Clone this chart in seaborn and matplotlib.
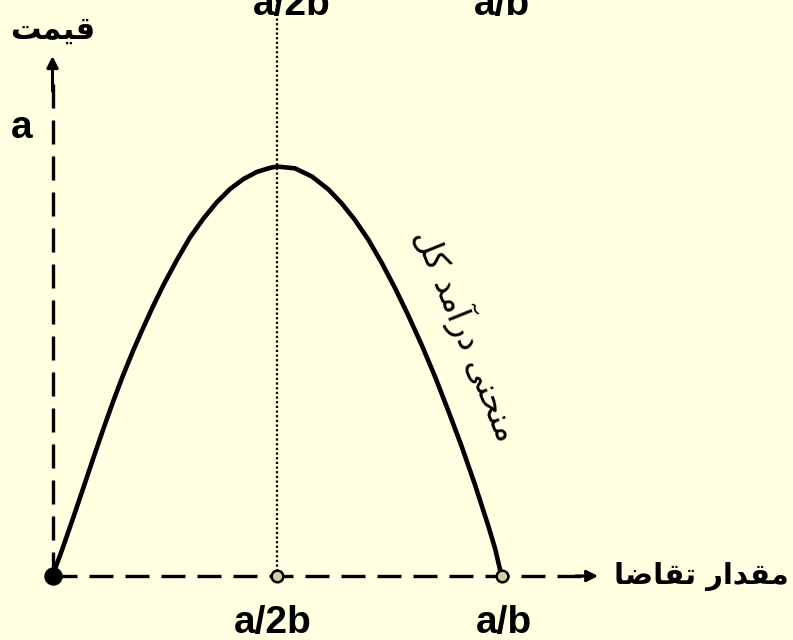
import matplotlib
matplotlib.use("Agg")
import matplotlib.pyplot as plt
import seaborn as sns
import pandas as pd

# ---- data ----
# quantity in units of a/2b  (0 = origin, 1 = a/2b, 2 = a/b)
q_values = [0.0, 0.048, 0.093, 0.137, 0.182, 0.226, 0.271, 0.315, 0.360, 0.404, 0.449,
            0.494, 0.553, 0.612, 0.672, 0.731, 0.791, 0.850, 0.910, 0.969, 1.0,
            1.080, 1.155, 1.229, 1.288, 1.347, 1.407, 1.466, 1.526, 1.585, 1.645,
            1.704, 1.763, 1.823, 1.882, 1.941, 1.972, 2.0]
# total revenue in units of a
tr_values = [0.0, 0.066, 0.131, 0.196, 0.263, 0.327, 0.390, 0.448, 0.503, 0.553, 0.602,
             0.648, 0.703, 0.754, 0.796, 0.832, 0.862, 0.884, 0.900, 0.909, 0.912,
             0.908, 0.890, 0.861, 0.830, 0.793, 0.749, 0.698, 0.641, 0.580, 0.514,
             0.444, 0.368, 0.288, 0.203, 0.112, 0.060, 0.0]
key_q = [0.0, 1.0, 2.0]
key_labels = ["", "a/2b", "a/b"]
price_tick = 1.0
price_label = "a"

# Persian labels (visual order, Arabic presentation forms)
label_price = "\uFE96\uFEE4\uFEF4\uFED7"                      # قیمت
label_qty = ("\uFE8E\uFEBF\uFE8E\uFED8\uFE97 "                 # تقاضا
             "\uFEAD\uFE8D\uFEAA\uFED8\uFEE3")                 # مقدار
label_curve = ("\uFEDE\uFB90 "                                 # کل
               "\uFEAA\uFEE3\uFE81\uFEAD\uFEA9 "               # درآمد
               "\uFEF0\uFEE8\uFEA4\uFEE8\uFEE3")               # منحنی

df = pd.DataFrame({"q": q_values, "tr": tr_values})

sns.set_theme(style="white")
plt.rcParams['font.family'] = ['Liberation Sans', 'DejaVu Sans']
plt.rcParams['text.color'] = 'black'

bg = "#FFFFE1"
fig = plt.figure(figsize=(7.93, 6.40), dpi=100, facecolor=bg)
ax = fig.add_axes([0, 0, 1, 1])
ax.set_facecolor(bg)
ax.set_xlim(-0.2339, 3.2984)
ax.set_ylim(-0.1425, 1.2829)
ax.axis("off")

# dotted vertical line at a/2b
ax.plot([key_q[1], key_q[1]], [0, 1.4], color="black", lw=1.6,
        linestyle=(0, (1, 1.1)), zorder=2)

# dashed axes
ax.plot([0, 2.36], [0, 0], color="black", lw=2.4, dashes=(7.2, 3.6), zorder=2)
ax.plot([0, 0], [0, 1.12], color="black", lw=2.4, dashes=(7.2, 3.6), zorder=2)
ax.annotate("", xy=(2.43, 0), xytext=(2.33, 0),
            arrowprops=dict(arrowstyle="-|>,head_length=0.55,head_width=0.28",
                            color="black", lw=2.2, shrinkA=0, shrinkB=0))
ax.annotate("", xy=(0, 1.158), xytext=(0, 1.08),
            arrowprops=dict(arrowstyle="-|>,head_length=0.55,head_width=0.28",
                            color="black", lw=2.2, shrinkA=0, shrinkB=0))

# total revenue curve
sns.lineplot(data=df, x="q", y="tr", ax=ax, color="black", lw=3.3,
             sort=False, estimator=None, zorder=3)
ax.lines[-1].set_solid_capstyle("round")
ax.lines[-1].set_solid_joinstyle("round")

# markers
ax.scatter([key_q[0]], [0], s=150, color="black", zorder=5)
ax.scatter(key_q[1:], [0, 0], s=70, facecolor="#CFCFA0", edgecolor="black",
           linewidth=1.8, zorder=5)

# labels
fs = 28
ax.text(key_q[1] - 0.018, -0.127, key_labels[1], ha="center", va="baseline",
        fontsize=fs, fontweight="bold", color="black")
ax.text(key_q[2] + 0.01, -0.127, key_labels[2], ha="center", va="baseline",
        fontsize=fs, fontweight="bold", color="black")
ax.text(key_q[1] + 0.067, 1.249, key_labels[1], ha="center", va="baseline",
        fontsize=fs, fontweight="bold", color="black")
ax.text(key_q[2], 1.249, key_labels[2], ha="center", va="baseline",
        fontsize=fs, fontweight="bold", color="black")
ax.text(-0.136, price_tick - 0.025, price_label, ha="center", va="baseline",
        fontsize=fs, fontweight="bold", color="black")

ax.text(0.0, 1.216, label_price, ha="center", va="center", color="black",
        fontsize=22, fontweight="bold", family=["DejaVu Sans"])
ax.text(2.89, 0.0, label_qty, ha="center", va="center", color="black",
        fontsize=21, fontweight="bold", family=["DejaVu Sans"])
ax.text(1.846, 0.537, label_curve, ha="center", va="center", rotation=-68,
        rotation_mode="anchor", fontsize=24, color="black",
        family=["DejaVu Sans"])

fig.savefig("out.png", dpi=100, facecolor=bg)
